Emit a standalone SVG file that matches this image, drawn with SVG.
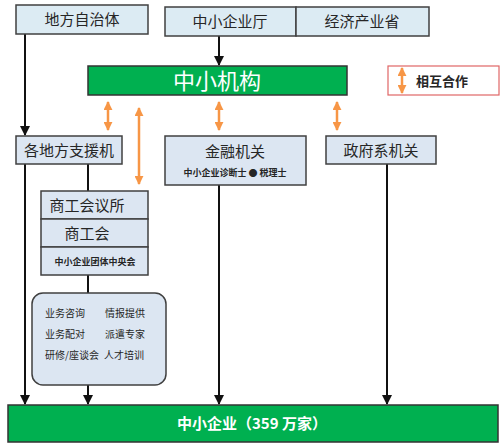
<svg xmlns="http://www.w3.org/2000/svg" width="500" height="447" viewBox="0 0 500 447">
<defs>
<style>
text{font-family:"Noto Sans CJK SC","Noto Sans CJK JP",sans-serif;fill:#262626;text-anchor:middle}
.top{fill:#dcebf3;stroke:#404040;stroke-width:1.5}
.box{fill:#dce6f2;stroke:#404040;stroke-width:1.5}
.green{fill:#00b050;stroke:#333;stroke-width:1.5}
.t15{font-size:15px}
.small{font-size:9px;font-weight:bold}
.item{font-size:10px;text-anchor:start}
.ln{stroke:#111;stroke-width:2;fill:none}
.or{stroke:#f79646;stroke-width:2.5;fill:none}
</style>
<marker id="ah" viewBox="0 0 10 10" refX="9" refY="5" markerWidth="5" markerHeight="5" orient="auto"><path d="M0,0L10,5L0,10z" fill="#111"/></marker>
<marker id="oh" viewBox="0 0 10 10" refX="9" refY="5" markerWidth="3.6" markerHeight="3.6" orient="auto-start-reverse"><path d="M0,0L10,5L0,10z" fill="#f79646"/></marker>
</defs>
<g id="connectors">
<line class="ln" x1="25" y1="34" x2="25" y2="135" marker-end="url(#ah)"/>
<line class="ln" x1="219" y1="36" x2="219" y2="65" marker-end="url(#ah)"/>
<line class="ln" x1="25" y1="164" x2="25" y2="404" marker-end="url(#ah)"/>
<line class="ln" x1="88" y1="164" x2="88" y2="191"/>
<line class="ln" x1="88" y1="275" x2="88" y2="293"/>
<line class="ln" x1="88" y1="385" x2="88" y2="404" marker-end="url(#ah)"/>
<line class="ln" x1="219" y1="185" x2="219" y2="404" marker-end="url(#ah)"/>
<line class="ln" x1="387" y1="164" x2="387" y2="404" marker-end="url(#ah)"/>
<line class="or" x1="108" y1="102" x2="108" y2="130" marker-start="url(#oh)" marker-end="url(#oh)"/>
<line class="or" x1="139" y1="108" x2="139" y2="184" marker-start="url(#oh)" marker-end="url(#oh)"/>
<line class="or" x1="219" y1="102" x2="219" y2="130" marker-start="url(#oh)" marker-end="url(#oh)"/>
<line class="or" x1="337" y1="102" x2="337" y2="130" marker-start="url(#oh)" marker-end="url(#oh)"/>
</g>
<g id="n-local">
<rect class="top" x="16" y="5" width="132" height="29"/>
<text class="t15" x="82" y="25">地方自治体</text>
</g>
<g id="n-sme-agency">
<rect class="top" x="165" y="7" width="131" height="29"/>
<text class="t15" x="230" y="27">中小企业厅</text>
</g>
<g id="n-meti">
<rect class="top" x="296" y="7" width="133" height="29"/>
<text class="t15" x="362" y="27">经济产业省</text>
</g>
<g id="n-smrj">
<rect class="green" x="88" y="66" width="259" height="29"/>
<text x="217" y="89" style="font-size:22px;fill:#fff">中小机构</text>
</g>
<g id="legend">
<rect x="388" y="66" width="111" height="29" fill="#fff" stroke="#e06666" stroke-width="1.2"/>
<line class="or" x1="402" y1="68" x2="402" y2="93" marker-start="url(#oh)" marker-end="url(#oh)"/>
<text x="442" y="86" style="font-size:13px;font-weight:bold">相互合作</text>
</g>
<g id="n-support">
<rect class="box" x="16" y="136" width="106" height="28"/>
<text class="t15" x="69" y="156">各地方支援机</text>
</g>
<g id="n-finance">
<rect class="box" x="165" y="136" width="141" height="49"/>
<text class="t15" x="235" y="157">金融机关</text>
<text class="small" x="235" y="176">中小企业诊断士 ● 税理士</text>
</g>
<g id="n-gov">
<rect class="box" x="326" y="136" width="110" height="28"/>
<text class="t15" x="381" y="156">政府系机关</text>
</g>
<g id="n-chambers">
<rect class="box" x="41" y="191" width="107" height="28"/>
<rect class="box" x="41" y="219" width="107" height="28"/>
<rect class="box" x="41" y="247" width="107" height="28"/>
<text class="t15" x="87" y="211">商工会议所</text>
<text class="t15" x="87" y="239">商工会</text>
<text class="small" x="95" y="265">中小企业团体中央会</text>
</g>
<g id="n-services">
<rect class="box" x="32" y="293" width="134" height="92" rx="11"/>
<text class="item" x="45" y="317">业务咨询</text>
<text class="item" x="105" y="317">情报提供</text>
<text class="item" x="45" y="338">业务配对</text>
<text class="item" x="105" y="338">派遣专家</text>
<text class="item" x="45" y="359">研修/座谈会</text>
<text class="item" x="104" y="359">人才培训</text>
</g>
<g id="n-sme">
<rect class="green" x="8" y="405" width="490" height="37"/>
<text x="252" y="429" style="font-size:15px;font-weight:bold;fill:#fff">中小企业（359 万家）</text>
</g>
</svg>
